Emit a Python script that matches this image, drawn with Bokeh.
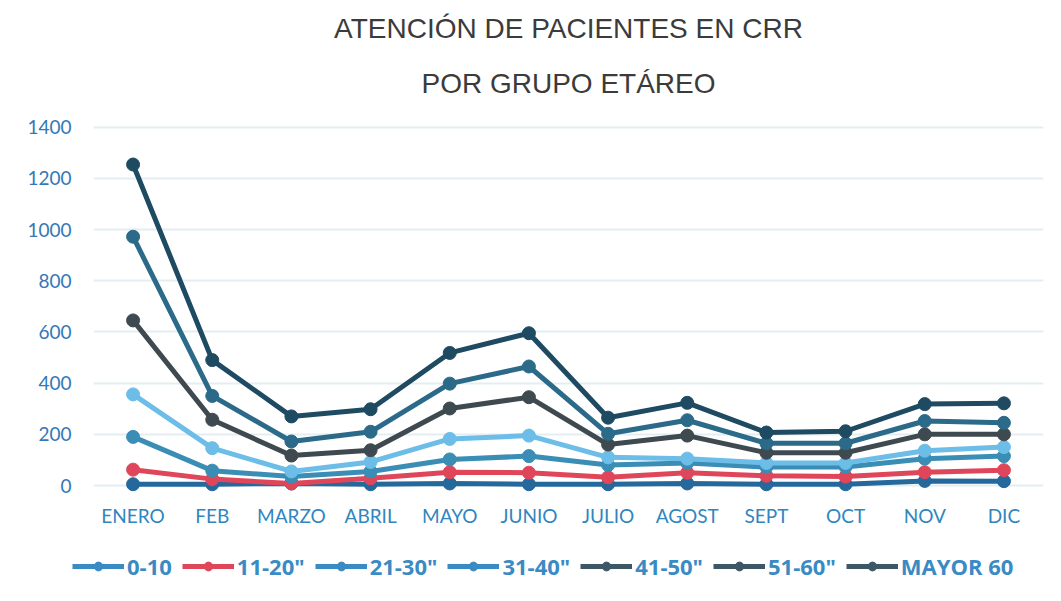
from bokeh.plotting import figure
from bokeh.layouts import column
from bokeh.models import FactorRange, Range1d, Legend, LegendItem, FixedTicker, Title
from bokeh.embed import file_html
from bokeh.resources import INLINE

months = ["ENERO", "FEB", "MARZO", "ABRIL", "MAYO", "JUNIO", "JULIO", "AGOST", "SEPT", "OCT", "NOV", "DIC"]
series_names = ["0-10", "11-20\"", "21-30\"", "31-40\"", "41-50\"", "51-60\"", "MAYOR 60"]
s_0_10 = [5, 5, 8, 5, 8, 5, 5, 8, 5, 5, 18, 17]
s_11_20 = [62, 25, 8, 28, 52, 50, 32, 50, 38, 35, 52, 60]
s_21_30 = [190, 58, 35, 55, 102, 115, 80, 88, 72, 72, 105, 115]
s_31_40 = [356, 146, 55, 92, 182, 195, 110, 105, 88, 88, 136, 150]
s_41_50 = [645, 257, 117, 138, 301, 345, 160, 195, 128, 128, 200, 200]
s_51_60 = [972, 350, 172, 210, 398, 465, 202, 255, 165, 165, 252, 245]
s_mayor_60 = [1254, 490, 270, 298, 518, 595, 265, 323, 207, 212, 318, 321]
yticks = [0, 200, 400, 600, 800, 1000, 1200, 1400]
title_line1 = "ATENCIÓN DE PACIENTES EN CRR"
title_line2 = "POR GRUPO ETÁREO"

all_series = [s_0_10, s_11_20, s_21_30, s_31_40, s_41_50, s_51_60, s_mayor_60]
colors = ["#24689c", "#e0465a", "#3a8db5", "#6cbde8", "#3e4a50", "#2b6a88", "#1e4a62"]
legend_colors = ["#3a8ac4", "#e0465a", "#3a8ac4", "#3a8ac4", "#3d5766", "#3d5766", "#3d5766"]

p = figure(width=1053, height=545, output_backend="svg", toolbar_location=None,
           x_range=FactorRange(*months, range_padding=0),
           y_range=Range1d(-39, 1426), frame_align=False,
           min_border_left=93, min_border_right=10, min_border_top=120, min_border_bottom=50)
p.outline_line_color = None
p.background_fill_color = "white"
p.border_fill_color = "white"

p.xgrid.grid_line_color = None
p.ygrid.grid_line_color = "#e3edf2"
p.ygrid.grid_line_width = 2
p.yaxis.ticker = FixedTicker(ticks=yticks)

for ax in (p.xaxis, p.yaxis):
    ax.axis_line_color = None
    ax.major_tick_line_color = None
    ax.minor_tick_line_color = None
    ax.major_label_text_font = "Lato"
    ax.major_label_text_font_size = "19px"
    ax.major_label_text_color = "#3478b8"
p.xaxis.major_label_text_color = "#2f86c0"
p.xaxis.major_label_standoff = 2
p.yaxis.major_label_standoff = 16

for name, vals, col in zip(series_names, all_series, colors):
    p.line(months, vals, line_color=col, line_width=5)
    p.scatter(months, vals, size=13, fill_color=col, line_color=col)

p.title.text = title_line1
p.title.align = "center"
p.title.offset = -26
p.title.text_font = "Liberation Sans"
p.title.text_font_size = "28px"
p.title.text_font_style = "normal"
p.title.text_color = "#3b3b3b"
p.title.standoff = 0
t2 = Title(text=title_line2, align="center", offset=-26, text_font="Liberation Sans",
           text_font_size="28px", text_font_style="normal", text_color="#3b3b3b", standoff=44)
p.add_layout(t2, "above")

# separate strip holding the legend below the chart
lg = figure(width=1053, height=48, output_backend="svg", toolbar_location=None,
            x_range=Range1d(0, 1), y_range=Range1d(0, 1), frame_align=False,
            min_border_left=0, min_border_right=0, min_border_top=0, min_border_bottom=0)
lg.axis.visible = False
lg.grid.visible = False
lg.outline_line_color = None
lg.background_fill_color = "white"
lg.border_fill_color = "white"

items = []
for name, lcol in zip(series_names, legend_colors):
    l = lg.line([-10, -9], [-10, -10], line_color=lcol, line_width=5)
    s = lg.scatter([-10], [-10], size=13, fill_color=lcol, line_color=lcol)
    items.append(LegendItem(label=name, renderers=[l, s]))

legend = Legend(items=items, orientation="horizontal", location=(72, 12),
                glyph_width=52, glyph_height=22, label_standoff=3, spacing=10,
                padding=0, margin=0, border_line_color=None, background_fill_alpha=0,
                label_text_font="Open Sans", label_text_font_size="22px",
                label_text_color="#3a8ac4", label_text_font_style="bold")
lg.add_layout(legend, "center")

layout = column(p, lg, spacing=0)
open("out.html", "w").write(file_html(layout, INLINE))
